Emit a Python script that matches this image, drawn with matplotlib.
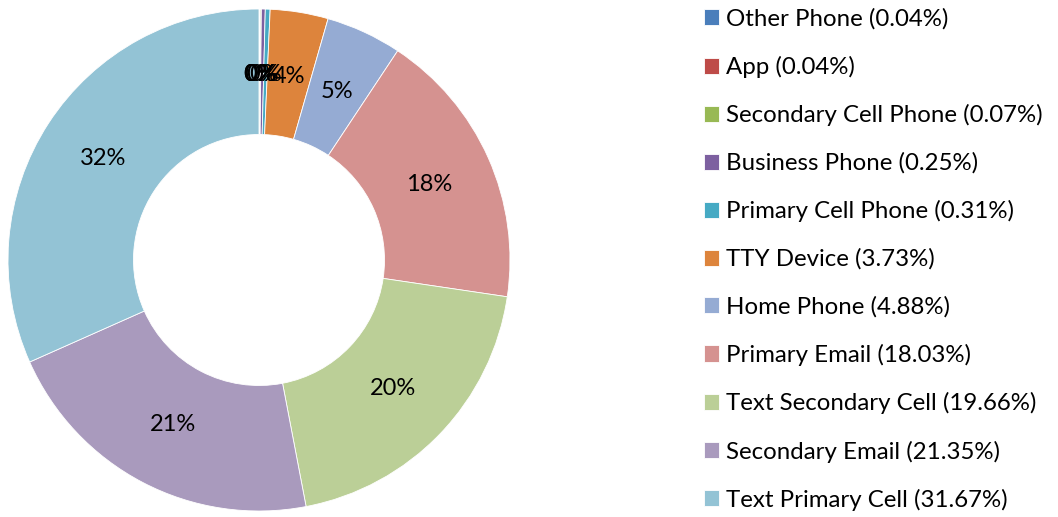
import matplotlib.pyplot as plt

# Contact channel shares (%)
names = ['Other Phone', 'App', 'Secondary Cell Phone', 'Business Phone',
         'Primary Cell Phone', 'TTY Device', 'Home Phone', 'Primary Email',
         'Text Secondary Cell', 'Secondary Email', 'Text Primary Cell']
values = [0.04, 0.04, 0.07, 0.25, 0.31, 3.73, 4.88, 18.03, 19.66, 21.35, 31.67]
colors = ['#4A7EBB', '#BE4B48', '#98B954', '#7D60A0', '#46AAC4', '#DD843C',
          '#95ABD3', '#D59290', '#BBCF97', '#A99ABD', '#93C3D5']

plt.rcParams['font.family'] = ['Lato', 'DejaVu Sans']

fig = plt.figure(figsize=(10.58, 5.17), dpi=100)
ax = fig.add_axes([8 / 1058, 6 / 517, 502 / 1058, 502 / 517])

wedges, texts, autotexts = ax.pie(
    values, colors=colors, startangle=90, counterclock=False,
    autopct=lambda p: f'{p:.0f}%', pctdistance=0.74,
    wedgeprops=dict(width=0.5, edgecolor='white', linewidth=0.6),
    textprops=dict(fontsize=17, color='black'))
ax.set_xlim(-1, 1)
ax.set_ylim(-1, 1)
ax.set_aspect('equal')

labels = [f'{n} ({v:.2f}%)' for n, v in zip(names, values)]
fig.legend(wedges, labels, loc='upper left', bbox_to_anchor=(682 / 1058, 1.026),
           frameon=False, fontsize=17.3, handlelength=0.65, handleheight=0.65,
           handletextpad=0.3, labelspacing=1.09, borderpad=0.4)

fig.savefig('out.png', dpi=100)
